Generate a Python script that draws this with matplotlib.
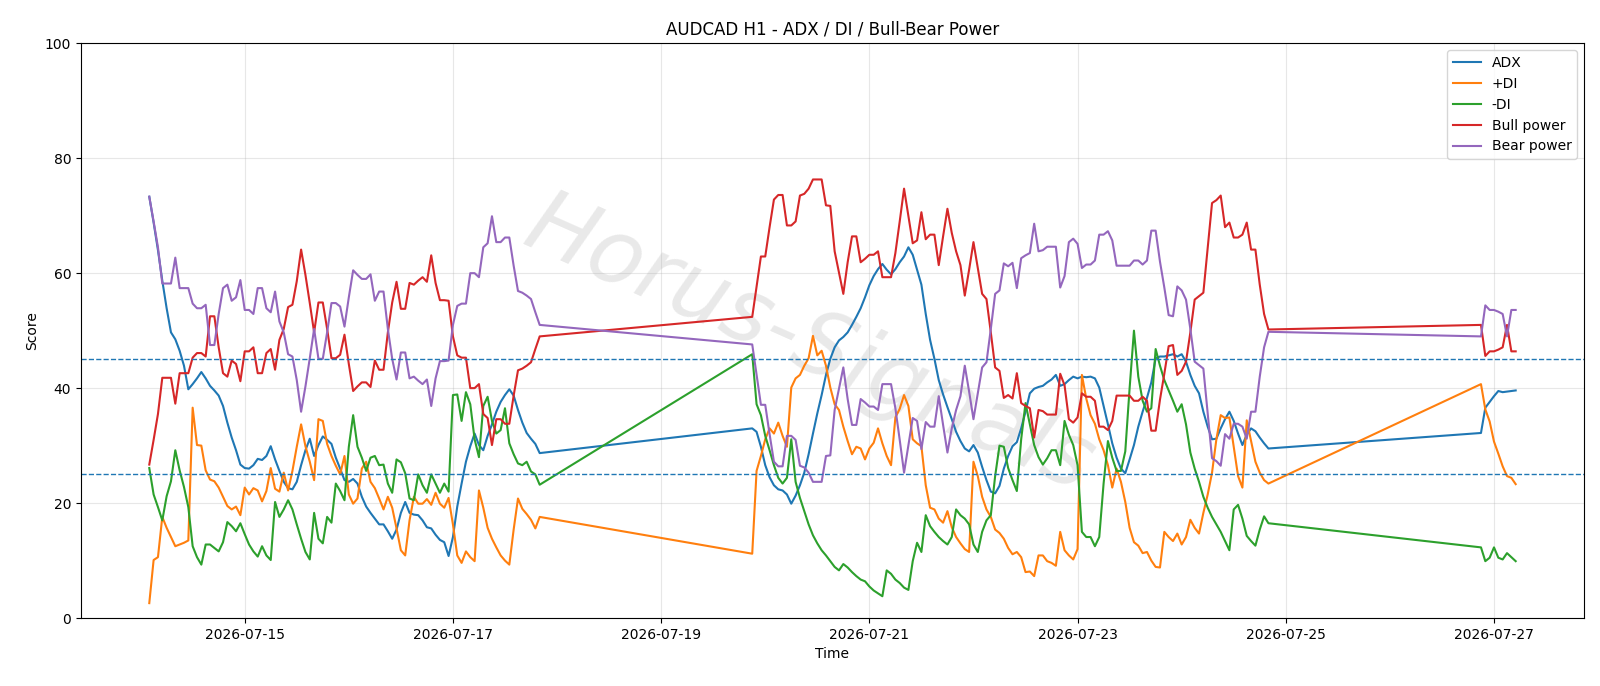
import numpy as np
import pandas as pd
import matplotlib
matplotlib.use("Agg")
import matplotlib.pyplot as plt
import matplotlib.dates as mdates

# hourly bars, three trading blocks (weekends missing)
seg_starts = ["2026-07-14 02:00", "2026-07-19 21:00", "2026-07-26 21:00"]
seg_lengths = [91, 120, 9]

adx = [
    73.3, 68.8, 64.0, 58.7, 53.9, 49.7, 48.5, 46.5, 43.9, 39.8,
    40.7, 41.7, 42.8, 41.7, 40.4, 39.6, 38.7, 36.9, 34.0, 31.4,
    29.2, 26.7, 26.1, 26.0, 26.6, 27.7, 27.5, 28.2, 29.9, 27.6,
    25.6, 23.7, 22.6, 22.4, 23.7, 26.6, 29.2, 31.2, 28.2, 30.1,
    31.6, 31.0, 30.3, 27.9, 26.0, 24.0, 23.7, 24.2, 23.4, 21.1,
    19.4, 18.3, 17.3, 16.3, 16.3, 15.1, 13.8, 15.4, 18.3, 20.2,
    18.3, 18.0, 17.9, 17.0, 15.8, 15.6, 14.5, 13.6, 13.2, 10.8,
    14.1, 19.4, 23.4, 27.2, 29.9, 32.1, 30.1, 29.2, 31.7, 33.7,
    35.9, 37.6, 38.8, 39.8, 38.7, 36.2, 34.0, 32.2, 31.2, 30.3,
    28.7,
    33.0, 32.4, 29.8, 26.6, 24.5, 23.1, 22.4, 22.2, 21.5, 19.9,
    21.3, 23.1, 25.3, 28.5, 32.1, 35.6, 38.8, 42.3, 45.1, 47.1,
    48.3, 48.9, 49.7, 51.0, 52.4, 53.9, 55.8, 57.9, 59.5, 60.7,
    61.6, 60.6, 59.8, 60.7, 61.9, 62.9, 64.5, 63.2, 60.6, 58.0,
    52.9, 48.4, 45.1, 41.4, 38.9, 36.7, 34.6, 32.4, 30.8, 29.5,
    29.0, 30.1, 28.8, 26.3, 24.0, 22.0, 21.7, 23.0, 26.0, 28.2,
    29.9, 30.6, 33.0, 35.9, 39.1, 39.9, 40.2, 40.4, 41.0, 41.5,
    42.3, 40.4, 40.7, 41.4, 42.0, 41.7, 42.0, 41.9, 42.0, 41.7,
    40.1, 36.9, 33.7, 30.4, 27.9, 26.0, 25.2, 27.6, 30.1, 33.3,
    35.9, 38.3, 41.0, 45.2, 45.5, 45.5, 45.7, 45.9, 45.5, 45.9,
    44.6, 42.3, 40.4, 39.1, 35.9, 33.3, 31.1, 31.2, 33.0, 34.6,
    35.9, 34.3, 32.1, 30.1, 31.9, 33.0, 32.5, 31.4, 30.4, 29.5,
    32.2, 36.6, 37.6, 38.6, 39.5, 39.3, 39.4, 39.5, 39.6,
]

plus_di = [
    2.6, 10.1, 10.6, 17.6, 15.7, 14.1, 12.5, 12.8, 13.1, 13.5,
    36.6, 30.1, 30.0, 25.7, 24.1, 23.8, 22.7, 21.1, 19.5, 18.9,
    19.4, 17.9, 22.7, 21.5, 22.6, 22.2, 20.3, 22.1, 26.1, 22.5,
    22.0, 25.3, 22.2, 25.6, 29.8, 33.7, 29.9, 27.2, 24.0, 34.6,
    34.3, 30.3, 28.2, 26.5, 25.0, 28.2, 21.5, 19.9, 20.8, 26.0,
    27.2, 23.7, 22.6, 20.8, 18.9, 21.1, 19.2, 15.6, 11.8, 10.9,
    17.0, 21.1, 19.9, 19.9, 20.7, 19.7, 21.8, 19.9, 19.2, 20.9,
    16.3, 10.9, 9.6, 11.6, 10.6, 9.9, 22.2, 19.2, 15.7, 13.8,
    12.3, 10.9, 10.0, 9.3, 15.4, 20.8, 19.0, 18.1, 17.1, 15.6,
    17.6,
    11.2, 25.6, 28.2, 31.1, 33.0, 32.1, 34.0, 31.7, 29.8, 40.1,
    41.7, 42.3, 43.9, 45.2, 49.1, 45.7, 46.5, 43.9, 40.1, 37.2,
    36.2, 33.3, 30.8, 28.5, 29.8, 29.5, 27.6, 29.5, 30.5, 33.0,
    30.4, 28.2, 26.6, 34.9, 36.4, 38.8, 36.9, 31.1, 30.4, 29.9,
    23.1, 19.2, 18.9, 17.3, 16.6, 18.6, 15.8, 14.1, 13.0, 12.0,
    11.5, 27.2, 24.7, 21.1, 18.9, 17.6, 15.4, 14.8, 13.8, 12.2,
    11.1, 11.5, 10.6, 8.0, 8.1, 7.3, 10.9, 10.9, 9.9, 9.6,
    9.1, 15.0, 11.8, 10.9, 10.2, 12.0, 42.3, 38.2, 35.3, 33.8,
    31.1, 29.2, 26.6, 22.7, 26.0, 23.7, 20.2, 15.7, 13.2, 12.6,
    11.3, 11.5, 10.0, 8.9, 8.8, 15.0, 14.1, 13.4, 14.7, 12.8,
    14.1, 17.1, 15.7, 14.7, 18.3, 21.5, 25.3, 31.1, 35.3, 34.8,
    34.9, 29.8, 24.7, 22.7, 34.4, 30.8, 27.2, 25.3, 24.0, 23.4,
    40.7, 36.3, 34.2, 30.7, 28.6, 26.4, 24.7, 24.4, 23.3,
]

minus_di = [
    26.1, 21.5, 19.3, 17.0, 21.2, 23.8, 29.2, 25.7, 22.8, 19.3,
    12.5, 10.6, 9.3, 12.8, 12.8, 12.2, 11.6, 13.2, 16.7, 16.0,
    15.1, 16.5, 14.6, 12.8, 11.6, 10.7, 12.5, 10.9, 10.1, 20.2,
    17.6, 18.9, 20.5, 18.9, 16.3, 13.8, 11.5, 10.2, 18.3, 13.8,
    13.0, 17.6, 16.6, 23.4, 22.1, 20.5, 29.8, 35.3, 29.8, 27.9,
    25.6, 27.9, 28.2, 26.6, 26.7, 23.4, 21.8, 27.6, 27.1, 25.2,
    20.8, 20.5, 25.0, 23.1, 21.8, 25.0, 23.4, 21.8, 23.4, 22.0,
    38.8, 38.9, 34.3, 39.3, 37.2, 31.1, 28.0, 36.9, 38.5, 34.3,
    32.1, 32.7, 36.5, 30.4, 28.5, 26.9, 26.6, 27.2, 25.5, 25.0,
    23.2,
    45.9, 37.2, 35.3, 31.7, 29.2, 26.6, 24.4, 23.4, 24.4, 31.1,
    23.7, 20.9, 18.6, 16.3, 14.4, 13.0, 11.8, 10.9, 9.9, 8.9,
    8.3, 9.4, 8.8, 8.0, 7.3, 6.7, 6.4, 5.5, 4.8, 4.3,
    3.8, 8.3, 7.7, 6.7, 6.1, 5.3, 4.9, 9.9, 13.1, 11.5,
    17.9, 16.0, 15.0, 14.1, 13.4, 12.8, 14.1, 18.9, 17.9, 17.3,
    16.3, 12.8, 11.5, 15.0, 17.0, 17.9, 24.7, 30.0, 29.8, 26.1,
    24.0, 22.1, 31.1, 37.4, 33.7, 30.1, 28.0, 26.7, 27.8, 29.2,
    29.2, 26.6, 34.3, 31.9, 30.1, 26.6, 15.0, 14.1, 14.1, 12.5,
    14.1, 23.4, 30.8, 27.9, 25.6, 25.6, 29.0, 40.0, 50.0, 42.0,
    37.8, 35.9, 36.5, 46.8, 43.9, 41.4, 39.6, 37.8, 35.9, 37.2,
    33.7, 28.8, 26.0, 23.7, 21.1, 19.2, 17.6, 16.3, 15.0, 13.4,
    11.8, 18.9, 19.7, 17.3, 14.3, 13.4, 12.6, 15.4, 17.7, 16.5,
    12.3, 9.9, 10.5, 12.3, 10.5, 10.2, 11.3, 10.6, 9.9,
]

bull = [
    26.7, 31.0, 35.5, 41.8, 41.8, 41.8, 37.3, 42.6, 42.6, 42.6,
    45.3, 46.1, 46.1, 45.5, 52.5, 52.5, 47.1, 42.6, 42.0, 44.8,
    44.2, 41.2, 46.4, 46.4, 47.1, 42.6, 42.6, 46.1, 46.8, 43.2,
    48.4, 50.3, 54.1, 54.5, 58.6, 64.1, 59.7, 54.8, 49.7, 54.9,
    54.9, 50.3, 45.2, 45.2, 45.8, 49.3, 44.2, 39.5, 40.3, 41.0,
    41.0, 40.2, 44.8, 43.2, 43.2, 49.7, 54.9, 58.5, 53.8, 53.8,
    58.3, 58.0, 58.7, 59.3, 58.5, 63.1, 58.3, 55.3, 55.3, 55.2,
    49.0, 45.7, 45.3, 45.3, 40.0, 40.0, 40.7, 35.5, 34.8, 30.1,
    34.6, 34.6, 33.8, 33.8, 38.7, 43.1, 43.4, 43.9, 44.5, 46.8,
    49.0,
    52.4, 57.6, 62.9, 62.9, 68.0, 72.8, 73.6, 73.6, 68.3, 68.3,
    69.0, 73.5, 73.8, 74.7, 76.3, 76.3, 76.3, 71.8, 71.7, 63.8,
    60.1, 56.4, 61.9, 66.4, 66.4, 61.9, 62.5, 63.2, 63.2, 63.8,
    59.3, 59.3, 59.3, 63.5, 69.0, 74.7, 69.9, 65.2, 65.7, 70.6,
    65.9, 66.7, 66.7, 61.4, 66.4, 71.2, 67.0, 63.8, 61.4, 56.1,
    60.6, 65.4, 60.9, 56.4, 55.5, 49.7, 43.6, 43.0, 38.3, 38.8,
    38.2, 42.6, 37.4, 36.9, 36.5, 31.4, 36.2, 36.0, 35.4, 35.4,
    35.4, 42.5, 40.5, 34.6, 34.0, 34.9, 39.1, 38.5, 38.5, 37.8,
    33.3, 33.3, 32.7, 34.3, 38.7, 38.7, 38.7, 38.7, 37.8, 37.8,
    38.5, 37.8, 32.6, 32.6, 38.0, 42.5, 47.3, 47.5, 42.3, 43.0,
    44.6, 49.7, 55.4, 56.0, 56.6, 64.5, 72.2, 72.7, 73.5, 68.0,
    68.8, 66.2, 66.2, 66.7, 68.8, 64.1, 64.1, 58.0, 52.9, 50.2,
    51.0, 45.6, 46.4, 46.4, 46.7, 47.1, 51.0, 46.4, 46.4,
]

bear = [
    73.3, 69.0, 64.5, 58.2, 58.2, 58.2, 62.7, 57.4, 57.4, 57.4,
    54.7, 53.9, 53.9, 54.5, 47.5, 47.5, 52.9, 57.4, 58.0, 55.2,
    55.8, 58.8, 53.6, 53.6, 52.9, 57.4, 57.4, 53.9, 53.2, 56.8,
    51.6, 49.7, 45.9, 45.5, 41.4, 35.9, 40.3, 45.2, 50.3, 45.1,
    45.1, 49.7, 54.8, 54.8, 54.2, 50.7, 55.8, 60.5, 59.7, 59.0,
    59.0, 59.8, 55.2, 56.8, 56.8, 50.3, 45.1, 41.5, 46.2, 46.2,
    41.7, 42.0, 41.3, 40.7, 41.5, 36.9, 41.7, 44.7, 44.7, 44.8,
    51.0, 54.3, 54.7, 54.7, 60.0, 60.0, 59.3, 64.5, 65.2, 69.9,
    65.4, 65.4, 66.2, 66.2, 61.3, 56.9, 56.6, 56.1, 55.5, 53.2,
    51.0,
    47.6, 42.4, 37.1, 37.1, 32.0, 27.2, 26.4, 26.4, 31.7, 31.7,
    31.0, 26.5, 26.2, 25.3, 23.7, 23.7, 23.7, 28.2, 28.3, 36.2,
    39.9, 43.6, 38.1, 33.6, 33.6, 38.1, 37.5, 36.8, 36.8, 36.2,
    40.7, 40.7, 40.7, 36.5, 31.0, 25.3, 30.1, 34.8, 34.3, 29.4,
    34.1, 33.3, 33.3, 38.6, 33.6, 28.8, 33.0, 36.2, 38.6, 43.9,
    39.4, 34.6, 39.1, 43.6, 44.5, 50.3, 56.4, 57.0, 61.7, 61.2,
    61.8, 57.4, 62.6, 63.1, 63.5, 68.6, 63.8, 64.0, 64.6, 64.6,
    64.6, 57.5, 59.5, 65.4, 66.0, 65.1, 60.9, 61.5, 61.5, 62.2,
    66.7, 66.7, 67.3, 65.7, 61.3, 61.3, 61.3, 61.3, 62.2, 62.2,
    61.5, 62.2, 67.4, 67.4, 62.0, 57.5, 52.7, 52.5, 57.7, 57.0,
    55.4, 50.3, 44.6, 44.0, 43.4, 35.5, 27.8, 27.3, 26.5, 32.0,
    31.2, 33.8, 33.8, 33.3, 31.2, 35.9, 35.9, 42.0, 47.1, 49.8,
    49.0, 54.4, 53.6, 53.6, 53.3, 52.9, 49.0, 53.6, 53.6,
]

times = pd.DatetimeIndex(np.concatenate([
    pd.date_range(s, periods=n, freq="h").values for s, n in zip(seg_starts, seg_lengths)
]))

fig, ax = plt.subplots(figsize=(16, 6.86), dpi=100)

# faint watermark behind the lines
ax.text(0.485, 0.475, "Horus-Signals", transform=ax.transAxes, fontsize=64,
        color="#9a9a9a", alpha=0.22, rotation=-24, ha="center", va="center",
        style="italic", zorder=0)

ax.plot(times, adx, label="ADX")
ax.plot(times, plus_di, label="+DI")
ax.plot(times, minus_di, label="-DI")
ax.plot(times, bull, label="Bull power")
ax.plot(times, bear, label="Bear power")

ax.axhline(45, linestyle="--", linewidth=1)
ax.axhline(25, linestyle="--", linewidth=1)

ax.set_ylim(0, 100)
ax.set_title("AUDCAD H1 - ADX / DI / Bull-Bear Power")
ax.set_xlabel("Time")
ax.set_ylabel("Score")
ax.xaxis.set_major_locator(mdates.DayLocator(bymonthday=range(1, 32, 2)))
ax.xaxis.set_major_formatter(mdates.DateFormatter("%Y-%m-%d"))
ax.grid(True, alpha=0.3)
ax.legend(loc="upper right")

fig.subplots_adjust(left=0.0506, right=0.99, top=0.937, bottom=0.099)
fig.savefig("out.png", dpi=100)
